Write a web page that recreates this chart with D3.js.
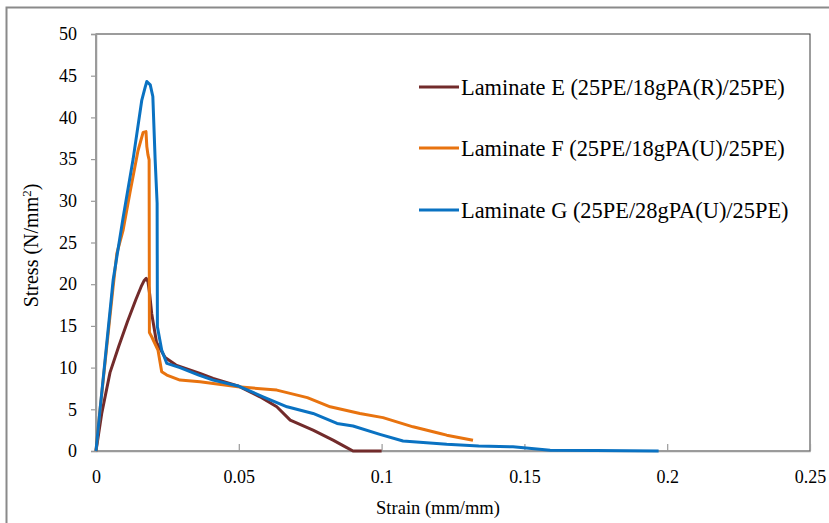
<!DOCTYPE html>
<html>
<head>
<meta charset="utf-8">
<script src="https://cdn.jsdelivr.net/npm/d3@7"></script>
<style>
  body { margin: 0; background: #fff; }
  svg { display: block; font-family: "Liberation Serif", "Times New Roman", serif; }
</style>
</head>
<body>
<div id="container"></div>
<script>
const xTicks = [0, 0.05, 0.1, 0.15, 0.2, 0.25];
const yTicks = [0, 5, 10, 15, 20, 25, 30, 35, 40, 45, 50];

const seriesNames = [
  "Laminate E (25PE/18gPA(R)/25PE)",
  "Laminate F (25PE/18gPA(U)/25PE)",
  "Laminate G (25PE/28gPA(U)/25PE)"
];
const seriesColors = ["#722B2B", "#E8730F", "#0A72C2"];

// strain (mm/mm) / stress (N/mm2)
const strainE = [0, 0.002, 0.0049, 0.008, 0.011, 0.014, 0.0158, 0.0168, 0.0176, 0.0182, 0.0188, 0.0195, 0.0212, 0.0242, 0.028, 0.0364, 0.041, 0.0497, 0.0574, 0.0633, 0.068, 0.076, 0.083, 0.0878, 0.09, 0.1];
const stressE = [0, 4.5, 9.4, 12.6, 15.5, 18.2, 19.7, 20.4, 20.7, 20.3, 18.8, 16.5, 13, 11.2, 10.3, 9.3, 8.7, 7.8, 6.5, 5.3, 3.7, 2.5, 1.3, 0.4, 0, 0];

const strainF = [0, 0.0014, 0.006, 0.0073, 0.0095, 0.0119, 0.0147, 0.0165, 0.0175, 0.0178, 0.0182, 0.0186, 0.0187, 0.0195, 0.0217, 0.023, 0.0248, 0.0294, 0.0364, 0.0497, 0.0633, 0.074, 0.082, 0.0924, 0.1005, 0.111, 0.1205, 0.1228, 0.132];
const stressF = [0, 4.9, 19.7, 23.7, 26.5, 31, 36, 38.2, 38.3, 36.5, 35.5, 34.9, 14.2, 13.7, 12.1, 9.5, 9.1, 8.5, 8.3, 7.7, 7.3, 6.4, 5.3, 4.5, 4.0, 2.9, 2.1, 1.9, 1.3];

const strainG = [0, 0.0014, 0.006, 0.0095, 0.013, 0.016, 0.0172, 0.0178, 0.019, 0.0199, 0.0207, 0.0214, 0.0215, 0.023, 0.0248, 0.0294, 0.036, 0.041, 0.0497, 0.0585, 0.0669, 0.076, 0.0844, 0.09, 0.0994, 0.1075, 0.1228, 0.134, 0.146, 0.159, 0.175, 0.197];
const stressG = [0, 4.9, 20.5, 28, 35, 42, 43.6, 44.3, 43.9, 42.5, 35, 29.7, 14.9, 12.1, 10.5, 10, 9.1, 8.5, 7.8, 6.5, 5.3, 4.5, 3.3, 3.0, 2.0, 1.2, 0.8, 0.6, 0.5, 0.1, 0.05, 0];

const series = [
  { name: seriesNames[0], color: seriesColors[0], pts: d3.zip(strainE, stressE) },
  { name: seriesNames[1], color: seriesColors[1], pts: d3.zip(strainF, stressF) },
  { name: seriesNames[2], color: seriesColors[2], pts: d3.zip(strainG, stressG) }
];

const width = 829, height = 523;
const plot = { left: 96, right: 810, top: 34, bottom: 451 };

const svg = d3.select("#container").append("svg")
  .attr("width", width)
  .attr("height", height);

// outer frame
svg.append("rect")
  .attr("x", 6.5).attr("y", 7.5)
  .attr("width", 840).attr("height", 540)
  .attr("fill", "none").attr("stroke", "#8a8a8a").attr("stroke-width", 2);

const x = d3.scaleLinear().domain([0, 0.25]).range([plot.left, plot.right]);
const y = d3.scaleLinear().domain([0, 50]).range([plot.bottom, plot.top]);

// plot box
svg.append("rect")
  .attr("x", plot.left).attr("y", plot.top)
  .attr("width", plot.right - plot.left).attr("height", plot.bottom - plot.top)
  .attr("fill", "none").attr("stroke", "#3a3a3a").attr("stroke-width", 1);

// y axis
const yAxis = svg.append("g")
  .attr("transform", `translate(${plot.left},0)`)
  .call(d3.axisLeft(y).tickValues(yTicks).tickSize(5).tickPadding(14).tickFormat(d3.format("d")));
// x axis
const xAxis = svg.append("g")
  .attr("transform", `translate(0,${plot.bottom})`)
  .call(d3.axisBottom(x).tickValues(xTicks).tickSize(0).tickPadding(19).tickFormat(d => d === 0 ? "0" : String(d)));
xAxis.selectAll(".tick line").attr("y2", -7);

[yAxis, xAxis].forEach(a => {
  a.select(".domain").attr("stroke", "#9a9a9a").attr("stroke-width", 1.5);
  a.selectAll(".tick line").attr("stroke", "#9a9a9a").attr("stroke-width", 1.2);
  a.selectAll("text").attr("font-size", 18).attr("fill", "#000")
    .attr("font-family", "Liberation Serif, Times New Roman, serif");
});

// curves
const line = d3.line().x(d => x(d[0])).y(d => y(d[1]));
svg.selectAll("path.curve")
  .data(series)
  .join("path")
    .attr("class", "curve")
    .attr("d", d => line(d.pts))
    .attr("fill", "none")
    .attr("stroke", d => d.color)
    .attr("stroke-width", 3)
    .attr("stroke-linejoin", "round");

// legend
const legendY = [87, 148, 210];
const legend = svg.selectAll("g.leg")
  .data(series)
  .join("g")
    .attr("class", "leg")
    .attr("transform", (d, i) => `translate(419,${legendY[i]})`);
legend.append("line")
  .attr("x1", 0).attr("x2", 40)
  .attr("stroke", d => d.color).attr("stroke-width", 3);
legend.append("text")
  .attr("x", 42).attr("dy", "0.35em")
  .attr("font-size", 22.4)
  .text(d => d.name);

// axis titles
svg.append("text")
  .attr("x", 438).attr("y", 514)
  .attr("text-anchor", "middle").attr("font-size", 18.5)
  .text("Strain (mm/mm)");

const yt = svg.append("text")
  .attr("transform", `translate(38,${(plot.top + plot.bottom) / 2 + 3}) rotate(-90)`)
  .attr("text-anchor", "middle").attr("font-size", 20);
yt.append("tspan").text("Stress (N/mm");
yt.append("tspan").attr("baseline-shift", "super").attr("font-size", 13).text("2");
yt.append("tspan").text(")");
</script>
</body>
</html>
